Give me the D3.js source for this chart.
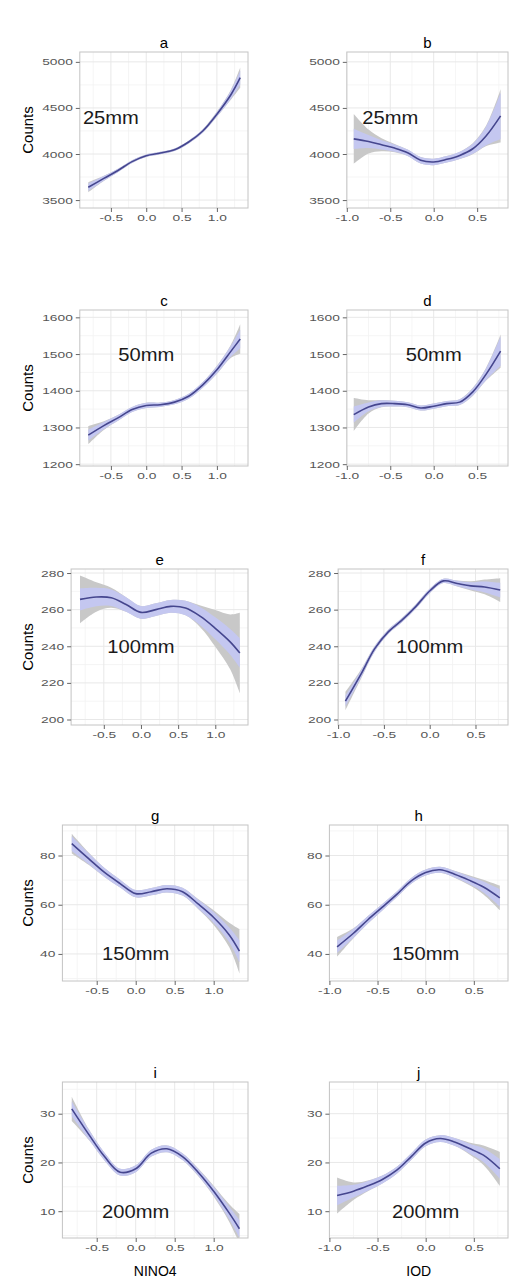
<!DOCTYPE html>
<html>
<head>
<meta charset="utf-8">
<script src="https://cdn.jsdelivr.net/npm/d3@7"></script>
<style>
body { margin: 0; background: #fff; }
svg { display: block; font-family: "Liberation Sans", Arial, sans-serif; }
</style>
</head>
<body>
<div id="chart"></div>
<script>
// smoothed counts against the climate index
var ninoX = [-0.82, -0.6, -0.4, -0.2, 0, 0.2, 0.4, 0.6, 0.8, 1.0, 1.2, 1.33];
var iodX = [-0.92, -0.75, -0.6, -0.45, -0.3, -0.15, 0, 0.15, 0.3, 0.45, 0.6, 0.77];

var aCounts = [3639, 3735, 3821, 3917, 3981, 4010, 4046, 4130, 4250, 4432, 4646, 4828];
var aBlue = [40, 25, 18, 15, 14, 14, 14, 15, 18, 25, 45, 75];
var aGrey = [55, 28, 18, 15, 14, 14, 14, 15, 18, 28, 55, 110];
var bCounts = [4164, 4135, 4100, 4064, 4014, 3932, 3914, 3942, 3985, 4057, 4193, 4414];
var bBlue = [110, 70, 50, 40, 35, 35, 35, 35, 40, 55, 100, 250];
var bGrey = [270, 130, 70, 45, 35, 35, 35, 35, 40, 60, 110, 290];
var cCounts = [1279, 1305, 1326, 1349, 1360, 1362, 1369, 1385, 1416, 1457, 1508, 1541];
var cBlue = [15, 10, 8, 7, 7, 6, 6, 7, 8, 10, 15, 25];
var cGrey = [25, 12, 8, 7, 7, 6, 6, 7, 8, 11, 18, 40];
var dCounts = [1335, 1356, 1365, 1365, 1362, 1353, 1358, 1365, 1369, 1397, 1444, 1508];
var dBlue = [22, 12, 9, 8, 7, 7, 7, 7, 8, 10, 16, 40];
var dGrey = [45, 18, 10, 8, 7, 7, 7, 7, 8, 11, 17, 45];
var eCounts = [265.6, 266.9, 266.5, 262.8, 258.5, 260, 261.8, 260.9, 256.3, 249.8, 242.4, 236.3];
var eBlue = [6, 5, 4.5, 4, 3.5, 3.5, 3.5, 4, 5, 6, 7, 8];
var eGrey = [13, 8, 5.5, 4, 3.5, 3.5, 3.5, 4, 6, 10, 15, 22];
var fCounts = [210, 224.8, 238.7, 248, 254.4, 261.8, 270.2, 275.7, 274.3, 273, 272.4, 270.7];
var fBlue = [3, 2, 1.5, 1.2, 1.2, 1.2, 1.2, 1.2, 1.5, 2, 3, 4];
var fGrey = [5, 2.5, 1.5, 1.2, 1.2, 1.2, 1.2, 1.2, 1.6, 2.5, 4, 6.5];
var gCounts = [84.8, 78.6, 73.1, 68.6, 64.5, 65.3, 66.5, 65.3, 60.3, 54.8, 47.7, 41.1];
var gBlue = [3, 2.2, 1.8, 1.6, 1.5, 1.5, 1.5, 1.6, 1.8, 2.2, 3, 4.5];
var gGrey = [4, 2.5, 1.8, 1.6, 1.5, 1.5, 1.5, 1.6, 2, 3, 5, 9];
var hCounts = [42.9, 48.4, 53.9, 59, 64.2, 69.7, 73.1, 74.2, 72.4, 70, 67.2, 62.8];
var hBlue = [2.5, 1.8, 1.5, 1.3, 1.2, 1.2, 1.2, 1.2, 1.3, 1.6, 2.2, 3.5];
var hGrey = [4, 2, 1.5, 1.3, 1.2, 1.2, 1.2, 1.2, 1.4, 2, 3, 5];
var iCounts = [31, 25.7, 21.2, 18, 18.7, 21.9, 22.8, 21.2, 18, 14.1, 9.6, 6.4];
var iBlue = [1.5, 1, 0.8, 0.7, 0.7, 0.7, 0.7, 0.7, 0.7, 0.9, 1.3, 1.8];
var iGrey = [2.5, 1.1, 0.8, 0.7, 0.7, 0.7, 0.7, 0.7, 0.8, 1.1, 1.8, 3];
var jCounts = [13.2, 14.1, 15.2, 16.5, 18.4, 21.2, 24, 24.9, 24.2, 22.9, 21.5, 18.7];
var jBlue = [2, 1.3, 1, 0.8, 0.7, 0.7, 0.7, 0.7, 0.8, 1, 1.4, 2];
var jGrey = [3.7, 1.8, 1.1, 0.8, 0.7, 0.7, 0.7, 0.7, 0.8, 1.2, 2, 3.5];

var rowDomains = [[3414, 5107], [1195, 1620], [197, 282.2], [29, 92.4], [4.5, 36.5]];
var rowTicks = [[3500, 4000, 4500, 5000], [1200, 1300, 1400, 1500, 1600], [200, 220, 240, 260, 280], [40, 60, 80], [10, 20, 30]];
var rowMinor = [[3750, 4250, 4750], [1250, 1350, 1450, 1550], [210, 230, 250, 270], [30, 50, 70, 90], [5, 15, 25, 35]];
var ninoDomain = [-0.94, 1.44], iodDomain = [-1.0, 0.855];
var ninoTicks = [-0.5, 0, 0.5, 1.0], ninoMinor = [-0.75, -0.25, 0.25, 0.75, 1.25];
var iodTicks = [-1.0, -0.5, 0, 0.5], iodMinor = [-0.75, -0.25, 0.25, 0.75];
var rainLabels = ["25mm", "50mm", "100mm", "150mm", "200mm"];
var labelIndex = [-0.5, 0, 0, 0, 0];
var labelCounts = [4400, 1500, 240, 40, 10];

var panels = [
    {id: "a", row: 0, col: 0, y: aCounts, blue: aBlue, grey: aGrey},
    {id: "b", row: 0, col: 1, y: bCounts, blue: bBlue, grey: bGrey},
    {id: "c", row: 1, col: 0, y: cCounts, blue: cBlue, grey: cGrey},
    {id: "d", row: 1, col: 1, y: dCounts, blue: dBlue, grey: dGrey},
    {id: "e", row: 2, col: 0, y: eCounts, blue: eBlue, grey: eGrey},
    {id: "f", row: 2, col: 1, y: fCounts, blue: fBlue, grey: fGrey},
    {id: "g", row: 3, col: 0, y: gCounts, blue: gBlue, grey: gGrey},
    {id: "h", row: 3, col: 1, y: hCounts, blue: hBlue, grey: hGrey},
    {id: "i", row: 4, col: 0, y: iCounts, blue: iBlue, grey: iGrey},
    {id: "j", row: 4, col: 1, y: jCounts, blue: jBlue, grey: jGrey}
];

var width = 510, height = 1281;
var rowTop = [52, 310, 569, 825, 1082], panelH = 156;
var colBase = [45, 312], colRight = [248, 508], charW = 8.7;
var tickStretch = 1.45;

var svg = d3.select("#chart").append("svg")
    .attr("width", width)
    .attr("height", height);

panels.forEach(function (p, k) {
    var xs = p.col === 0 ? ninoX : iodX;
    var ticksY = rowTicks[p.row];
    var nChars = d3.max(ticksY, function (t) { return String(t).length; });
    var left = colBase[p.col] + charW * nChars;
    var right = colRight[p.col];
    var top = rowTop[p.row], bottom = top + panelH;

    var x = d3.scaleLinear().domain(p.col === 0 ? ninoDomain : iodDomain).range([left, right]);
    var y = d3.scaleLinear().domain(rowDomains[p.row]).range([bottom, top]);

    var g = svg.append("g");

    g.append("clipPath").attr("id", "clip" + k)
        .append("rect")
        .attr("x", left).attr("y", top)
        .attr("width", right - left).attr("height", panelH);

    // grid
    var minX = p.col === 0 ? ninoMinor : iodMinor;
    var majX = p.col === 0 ? ninoTicks : iodTicks;
    var grid = g.append("g").attr("clip-path", "url(#clip" + k + ")");
    grid.selectAll(".mx").data(minX).enter().append("line")
        .attr("x1", x).attr("x2", x).attr("y1", top).attr("y2", bottom)
        .attr("stroke", "#F3F3F3").attr("stroke-width", 0.8);
    grid.selectAll(".my").data(rowMinor[p.row]).enter().append("line")
        .attr("y1", y).attr("y2", y).attr("x1", left).attr("x2", right)
        .attr("stroke", "#F3F3F3").attr("stroke-width", 0.8);
    grid.selectAll(".gx").data(majX).enter().append("line")
        .attr("x1", x).attr("x2", x).attr("y1", top).attr("y2", bottom)
        .attr("stroke", "#E8E8E8").attr("stroke-width", 1);
    grid.selectAll(".gy").data(ticksY).enter().append("line")
        .attr("y1", y).attr("y2", y).attr("x1", left).attr("x2", right)
        .attr("stroke", "#E8E8E8").attr("stroke-width", 1);

    var pts = xs.map(function (v, i) {
        return {x: v, y: p.y[i], b: p.blue[i], g: p.grey[i]};
    });
    var curve = d3.curveCatmullRom.alpha(0.5);

    var plot = g.append("g").attr("clip-path", "url(#clip" + k + ")");
    plot.append("path").datum(pts)
        .attr("fill", "#C8C8C8")
        .attr("d", d3.area().curve(curve)
            .x(function (d) { return x(d.x); })
            .y0(function (d) { return y(d.y - d.g); })
            .y1(function (d) { return y(d.y + d.g); }));
    plot.append("path").datum(pts)
        .attr("fill", "#C4C7F0")
        .attr("d", d3.area().curve(curve)
            .x(function (d) { return x(d.x); })
            .y0(function (d) { return y(d.y - d.b); })
            .y1(function (d) { return y(d.y + d.b); }));
    plot.append("path").datum(pts)
        .attr("fill", "none").attr("stroke", "#45468E").attr("stroke-width", 1.6)
        .attr("d", d3.line().curve(curve)
            .x(function (d) { return x(d.x); })
            .y(function (d) { return y(d.y); }));

    g.append("rect")
        .attr("x", left).attr("y", top)
        .attr("width", right - left).attr("height", panelH)
        .attr("fill", "none").attr("stroke", "#C4C4C4").attr("stroke-width", 1);

    // axes
    var ay = g.append("g").attr("transform", "translate(" + left + ",0)")
        .call(d3.axisLeft(y).tickValues(ticksY).tickSize(4).tickPadding(3).tickFormat(d3.format("d")));
    var ax = g.append("g").attr("transform", "translate(0," + bottom + ")")
        .call(d3.axisBottom(x).tickValues(majX).tickSize(4).tickPadding(2)
            .tickFormat(function (d) { return d.toFixed(1); }));
    [ay, ax].forEach(function (a) {
        a.select(".domain").remove();
        a.selectAll(".tick line").attr("stroke", "#666");
        a.selectAll(".tick text")
            .attr("fill", "#555")
            .style("font-size", "9.5px")
            .style("font-family", "'Liberation Sans', Arial, sans-serif");
    });
    ay.selectAll(".tick text")
        .attr("x", -7 / tickStretch)
        .attr("transform", "scale(" + tickStretch + ",1)");
    ax.selectAll(".tick text")
        .attr("transform", "scale(" + tickStretch + ",1)");

    // panel letter
    g.append("text")
        .attr("x", (left + right) / 2).attr("y", top - 4)
        .attr("text-anchor", "middle")
        .style("font-size", "15px")
        .text(p.id);

    // threshold label
    g.append("text")
        .attr("transform", "translate(" + x(labelIndex[p.row]) + "," + y(labelCounts[p.row]) + ") scale(1.12,1)")
        .attr("text-anchor", "middle")
        .attr("dy", "0.36em")
        .style("font-size", "18px")
        .attr("fill", "#1a1a1a")
        .text(rainLabels[p.row]);

    if (p.col === 0) {
        g.append("text")
            .attr("transform", "translate(28," + (top + panelH / 2) + ") rotate(-90)")
            .attr("text-anchor", "middle")
            .attr("dy", "0.36em")
            .style("font-size", "15px")
            .text("Counts");
    }
    if (p.row === 4) {
        g.append("text")
            .attr("x", (left + right) / 2).attr("y", 1276)
            .attr("text-anchor", "middle")
            .style("font-size", "14px")
            .text(p.col === 0 ? "NINO4" : "IOD");
    }
});
</script>
</body>
</html>
